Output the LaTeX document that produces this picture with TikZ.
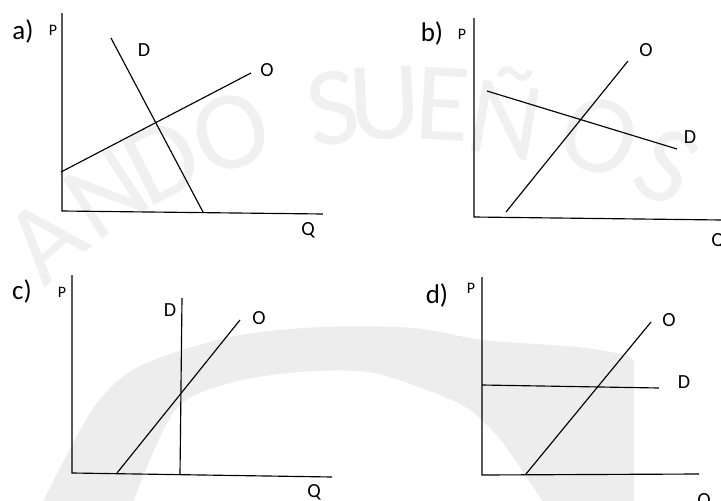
\documentclass[tikz,border=0pt]{standalone}
\usepackage{fontspec}
\setmainfont{Carlito}
\begin{document}
\begin{tikzpicture}[x=1pt,y=-1pt,
  ln/.style={line width=1.15pt, black},
  lab/.style={font=\fontsize{20}{20}\selectfont, inner sep=0pt},
  plab/.style={font=\fontsize{16}{16}\selectfont, inner sep=0pt},
  pan/.style={font=\fontsize{27}{27}\selectfont, inner sep=0pt},
  wm/.style={font=\fontsize{112}{112}\selectfont, inner sep=0pt, text=black!6}]
\useasboundingbox[fill=white] (0,0) rectangle (721,501);
% ---- watermark
\fill[black!7] plot[smooth] coordinates {(43,502) (92,410) (138,367) (230,337) (322,327) (414,328) (483,340) (577,347) (627,355)}
  -- (634,362) -- (634,502) -- (543,502)
  -- plot[smooth] coordinates {(543,502) (503,443) (470,410) (427,390) (368,372) (299,372) (230,383) (175,410) (133,502)} -- cycle;
\foreach \ch/\a [count=\i] in {A/131.1, N/123.2, D/116.5, O/108.8, S/98.0, U/92.6, E/86.6, Ñ/80.0, O/70.0, S/62.4}
  \node[wm, rotate=\a-90] (wm\i) at ({410+555*cos(\a)},{658-555*sin(\a)}) {\ch};
% ---- a)
\coordinate (aPt) at (62,13); \coordinate (aO) at (62,211); \coordinate (aQe) at (323,214);
\coordinate (aD1) at (111,38); \coordinate (aD2) at (203,212);
\coordinate (aS1) at (61,172); \coordinate (aS2) at (251,73);
\draw[ln] (aPt) -- (aO) -- (aQe);
\draw[ln] (aD1) -- (aD2);
\draw[ln] (aS1) -- (aS2);
\node[pan] (alab) at (23,31) {a)};
\node[plab] (aP) at (53,30) {P};
\node[lab] (aDl) at (144,50) {D};
\node[lab] (aOl) at (267,70) {O};
\node[lab] (aQ) at (308,230) {Q};
% ---- b)
\coordinate (bPt) at (474,18); \coordinate (bO) at (474,217); \coordinate (bQe) at (722,220);
\coordinate (bS1) at (506,212); \coordinate (bS2) at (628,61);
\coordinate (bD1) at (487,91); \coordinate (bD2) at (677,149);
\draw[ln] (bPt) -- (bO) -- (bQe);
\draw[ln] (bS1) -- (bS2);
\draw[ln] (bD1) -- (bD2);
\node[pan] (blab) at (432,33) {b)};
\node[plab] (bP) at (462,34) {P};
\node[lab] (bOl) at (646,50) {O};
\node[lab] (bDl) at (690,137) {D};
\node[lab] (bQ) at (718,241) {Q};
% ---- c)
\coordinate (cPt) at (72,275); \coordinate (cO) at (72,473); \coordinate (cQe) at (332,477);
\coordinate (cD1) at (182,298); \coordinate (cD2) at (180,475);
\coordinate (cS1) at (117,473); \coordinate (cS2) at (240,320);
\draw[ln] (cPt) -- (cO) -- (cQe);
\draw[ln] (cD1) -- (cD2);
\draw[ln] (cS1) -- (cS2);
\node[pan] (clab) at (22,291) {c)};
\node[plab] (cP) at (62,292) {P};
\node[lab] (cDl) at (170,310) {D};
\node[lab] (cOl) at (259,318) {O};
\node[lab] (cQ) at (314,492) {Q};
% ---- d)
\coordinate (dPt) at (482,277); \coordinate (dO) at (482,475); \coordinate (dQe) at (699,474);
\coordinate (dD1) at (482,385); \coordinate (dD2) at (659,388);
\coordinate (dS1) at (526,474); \coordinate (dS2) at (651,322);
\draw[ln] (dPt) -- (dO) -- (dQe);
\draw[ln] (dD1) -- (dD2);
\draw[ln] (dS1) -- (dS2);
\node[pan] (dlab) at (437,295) {d)};
\node[plab] (dP) at (471,288) {P};
\node[lab] (dOl) at (669,320) {O};
\node[lab] (dDl) at (684,382) {D};
\node[lab] (dQ) at (704,501) {Q};
\end{tikzpicture}
\end{document}
